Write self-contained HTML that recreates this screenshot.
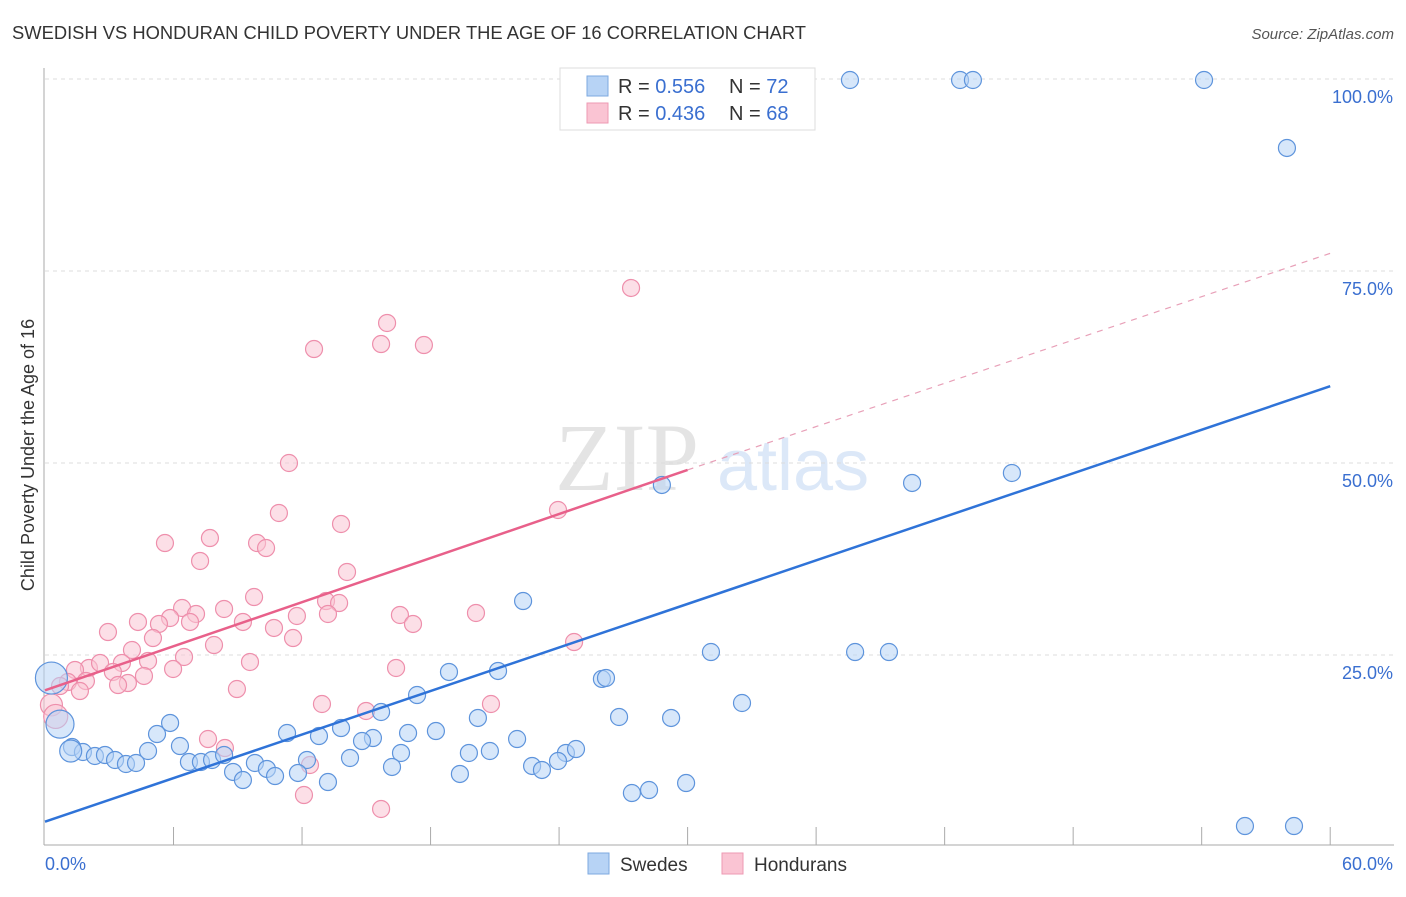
<!DOCTYPE html>
<html><head><meta charset="utf-8"><style>
body{margin:0;background:#fff;font-family:"Liberation Sans",sans-serif;}
</style></head><body>
<svg width="1406" height="892" xmlns="http://www.w3.org/2000/svg" id="svg" font-family="Liberation Sans, sans-serif">
<text x="12" y="39" font-size="18" fill="#333" textLength="794" lengthAdjust="spacingAndGlyphs">SWEDISH VS HONDURAN CHILD POVERTY UNDER THE AGE OF 16 CORRELATION CHART</text>
<text x="1394" y="39" font-size="15" fill="#555" font-style="italic" text-anchor="end">Source: ZipAtlas.com</text>
<g>
<text x="555" y="490" font-size="96" fill="#e4e4e4" font-family="Liberation Serif, serif">ZIP</text>
<text x="717" y="490" font-size="72" fill="#dce8f8">atlas</text>
</g>
<text transform="translate(34,455) rotate(-90)" font-size="18" fill="#333" text-anchor="middle">Child Poverty Under the Age of 16</text>
<g id="grid"></g><g id="axes"></g><g id="pts"></g><g id="lines"></g>
<g>
<rect x="560" y="68" width="255" height="62" fill="#fff" stroke="#ddd"/>
<rect x="587" y="76" width="21" height="20" fill="#b7d3f5" stroke="#7ea9e0"/>
<rect x="587" y="103" width="21" height="20" fill="#fac4d3" stroke="#ee9ab3"/>
<text x="618" y="93" font-size="20" fill="#333">R = <tspan fill="#3a6fd0">0.556</tspan></text>
<text x="729" y="93" font-size="20" fill="#333">N = <tspan fill="#3a6fd0">72</tspan></text>
<text x="618" y="120" font-size="20" fill="#333">R = <tspan fill="#3a6fd0">0.436</tspan></text>
<text x="729" y="120" font-size="20" fill="#333">N = <tspan fill="#3a6fd0">68</tspan></text>
</g>
<g>
<rect x="588" y="853" width="21" height="21" fill="#b7d3f5" stroke="#7ea9e0"/>
<text x="620" y="871" font-size="19" fill="#333">Swedes</text>
<rect x="722" y="853" width="21" height="21" fill="#fac4d3" stroke="#ee9ab3"/>
<text x="754" y="871" font-size="19" fill="#333">Hondurans</text>
</g>
</svg>
<script>
const xTicks=[0,6,12,18,24,30,36,42,48,54,60];
const yTicks=[25,50,75,100];
const yTickLabels=["25.0%","50.0%","75.0%","100.0%"];
const xEndLabels=["0.0%","60.0%"];
const bluePx=[[850,80],[960,80],[973,80],[1204,80],[1287,148],[645,106],[662,485],[912,483],[1012,473],[523,601],[711,652],[855,652],[889,652],[449,672],[498,671],[602,679],[606,678],[742,703],[417,695],[381,712],[478,718],[619,717],[671,718],[170,723],[157,734],[287,733],[319,736],[341,728],[373,738],[362,741],[436,731],[408,733],[517,739],[180,746],[148,751],[72,747],[83,752],[95,756],[105,755],[115,760],[126,764],[136,763],[189,762],[201,762],[212,760],[224,755],[255,763],[267,769],[307,760],[350,758],[401,753],[469,753],[490,751],[566,753],[576,749],[558,761],[532,766],[542,770],[233,772],[243,780],[275,776],[298,773],[392,767],[460,774],[328,782],[686,783],[632,793],[649,790],[1245,826],[1294,826]];
const pinkPx=[[631,288],[387,323],[381,344],[424,345],[314,349],[289,463],[279,513],[558,510],[341,524],[165,543],[210,538],[257,543],[266,548],[200,561],[347,572],[254,597],[182,608],[196,614],[224,609],[170,618],[138,622],[159,624],[190,622],[297,616],[326,601],[339,603],[328,614],[400,615],[476,613],[413,624],[108,632],[243,622],[274,628],[153,638],[293,638],[214,645],[132,650],[184,657],[148,661],[122,663],[250,662],[89,668],[100,663],[75,670],[396,668],[173,669],[144,676],[113,672],[68,682],[86,681],[128,683],[118,685],[60,686],[80,691],[237,689],[574,642],[322,704],[491,704],[366,711],[208,739],[225,748],[310,765],[304,795],[381,809]];
const swedesX=bluePx.map(p=>+((p[0]-45)/21.42).toFixed(2));
const swedesY=bluePx.map(p=>+((847-p[1])/7.68).toFixed(2));
const hondX=pinkPx.map(p=>+((p[0]-45)/21.42).toFixed(2));
const hondY=pinkPx.map(p=>+((847-p[1])/7.68).toFixed(2));
const bigSwedes=[[0.3,22,16],[0.7,16,14],[1.2,12.5,11]];
const bigHond=[[0.3,18.5,11],[0.5,17,12]];
const blueLine=[[0,3.3],[60,60]];
const pinkLine=[[0,20.4],[30,49.1]];
const pinkDash=[[30,49.1],[60,77.3]];
const X=v=>45+v*21.42, Y=v=>847-v*7.68;
const NS="http://www.w3.org/2000/svg";
function mk(tag,at,parent){const e=document.createElementNS(NS,tag);for(const k in at)e.setAttribute(k,at[k]);document.getElementById(parent).appendChild(e);return e;}
yTicks.forEach((t,i)=>{
 const g=mk('line',{x1:45,x2:1394,y1:Y(t),y2:Y(t),stroke:'#ddd','stroke-dasharray':'4,4'},'grid');
 
 
 const l=mk('text',{x:1393,y:Y(t)+24,'font-size':18,fill:'#3a6fd0','text-anchor':'end'},'axes');
 l.textContent=yTickLabels[i];
 
 
});
let a=mk('line',{x1:44,x2:44,y1:68,y2:845,stroke:'#aaa'},'axes');


a=mk('line',{x1:44,x2:1394,y1:845,y2:845,stroke:'#aaa'},'axes');


xTicks.slice(1).forEach(t=>{
 const k=mk('line',{x1:X(t),x2:X(t),y1:827,y2:845,stroke:'#aaa'},'axes');
 
 
});
let xl=mk('text',{x:45,y:870,'font-size':18,fill:'#3a6fd0'},'axes');xl.textContent=xEndLabels[0];


xl=mk('text',{x:1393,y:870,'font-size':18,fill:'#3a6fd0','text-anchor':'end'},'axes');xl.textContent=xEndLabels[1];


function dot(x,y,r,fill,stroke,name){
 const c=mk('circle',{cx:X(x),cy:Y(y),r:r,fill:fill,'fill-opacity':0.55,stroke:stroke,'stroke-width':1.2},'pts');
 
 
}
hondX.forEach((x,i)=>dot(x,hondY[i],8.5,'#fac4d3','#ee8fac','honduran-point'));
bigHond.forEach(b=>dot(b[0],b[1],b[2],'#fac4d3','#ee8fac','honduran-point'));
swedesX.forEach((x,i)=>dot(x,swedesY[i],8.5,'#b7d3f5','#5e94dc','swede-point'));
bigSwedes.forEach(b=>dot(b[0],b[1],b[2],'#b7d3f5','#5e94dc','swede-point'));
function ln(p,col,w,dash,name){
 const l=mk('line',{x1:X(p[0][0]),y1:Y(p[0][1]),x2:X(p[1][0]),y2:Y(p[1][1]),stroke:col,'stroke-width':w},'lines');
 if(dash)l.setAttribute('stroke-dasharray',dash);
 
 
}
ln(blueLine,'#2f73d8',2.5,null,'swedes-trend-line');
ln(pinkLine,'#e8608a',2.5,null,'hondurans-trend-line');
ln(pinkDash,'#e8a0b8',1.2,'6,6','hondurans-trend-extension');
</script>
</body></html>
